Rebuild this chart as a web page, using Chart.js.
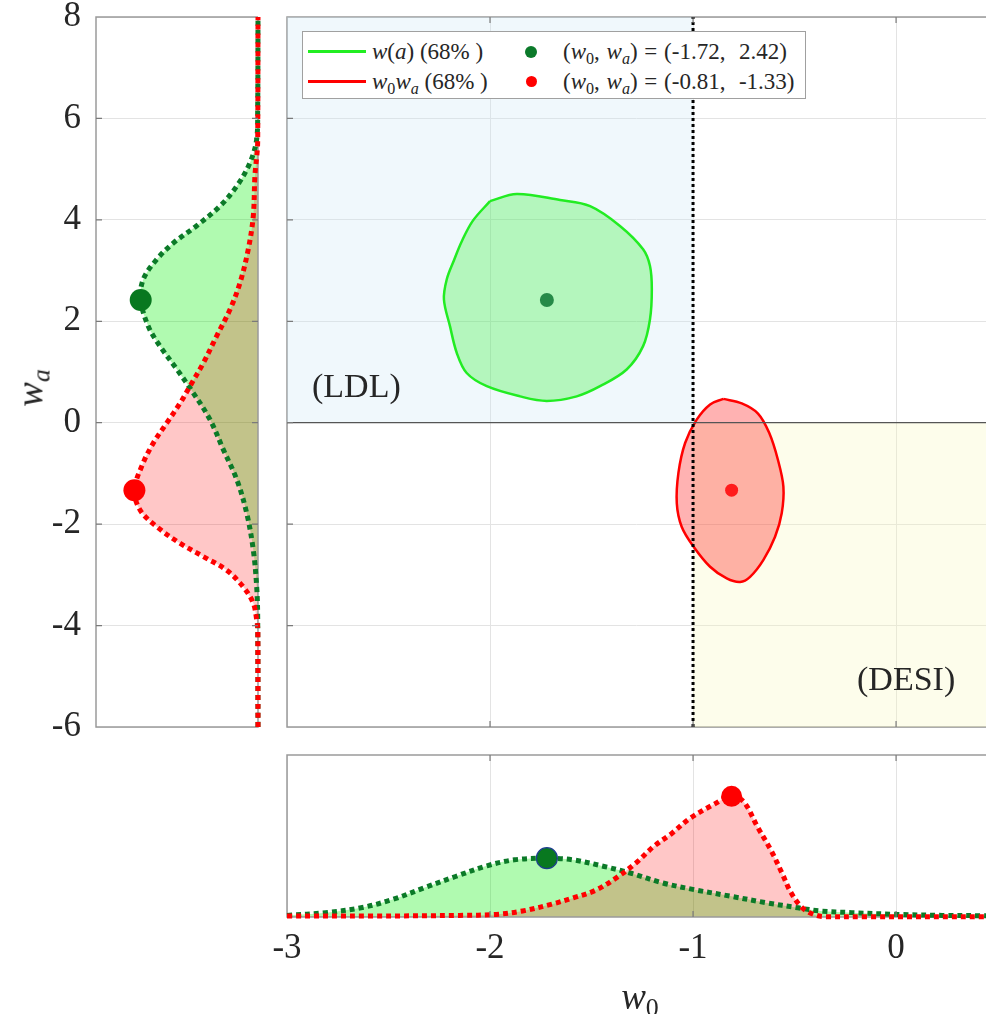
<!DOCTYPE html>
<html><head><meta charset="utf-8">
<script src="https://cdn.jsdelivr.net/npm/chart.js@4.4.0/dist/chart.umd.min.js"></script>
<style>
html,body{margin:0;padding:0;background:#fff;}
#wrap{position:relative;width:986px;height:1014px;overflow:hidden;font-family:'Liberation Serif','Times New Roman',serif;color:#262626;}
canvas{position:absolute;left:0;top:0;}
.t{position:absolute;white-space:nowrap;line-height:1;}
.t sub{font-size:0.7em;vertical-align:-0.28em;line-height:0;}
.sw{position:absolute;}
</style></head><body>
<div id="wrap">
<canvas id="cL" width="986" height="1014"></canvas>
<canvas id="cM" width="986" height="1014"></canvas>
<canvas id="cB" width="986" height="1014"></canvas>
<div class="t" style="left:312px;top:369px;font-size:34px;">(LDL)</div>
<div class="t" style="left:857px;top:662px;font-size:34px;">(DESI)</div>
<div class="sw" style="left:302px;top:31px;width:504px;height:68px;background:#fff;border:1px solid #a0a0a0;box-sizing:border-box;"></div>
<div class="sw" style="left:308px;top:50px;width:58px;height:2.5px;background:#22ee22;"></div>
<div class="sw" style="left:308px;top:80px;width:58px;height:2.5px;background:#ff0000;"></div>
<div class="sw" style="left:525px;top:45.5px;width:12px;height:12px;border-radius:50%;background:#0b7a2a;"></div>
<div class="sw" style="left:525.5px;top:76px;width:11px;height:11px;border-radius:50%;background:#ff0000;"></div>
<div class="t" style="left:372px;top:40px;font-size:23px;"><i>w</i>(<i>a</i>) (68% )</div>
<div class="t" style="left:372px;top:70px;font-size:23px;"><i>w</i><sub>0</sub><i>w</i><sub><i>a</i></sub> (68% )</div>
<div class="t" style="left:563px;top:40px;font-size:23px;word-spacing:1px;">(<i>w</i><sub>0</sub>, <i>w</i><sub><i>a</i></sub>) = (-1.72,&nbsp;&nbsp;2.42)</div>
<div class="t" style="left:563px;top:70px;font-size:23px;word-spacing:1px;">(<i>w</i><sub>0</sub>, <i>w</i><sub><i>a</i></sub>) = (-0.81,&nbsp;&nbsp;-1.33)</div>
<div class="t" style="left:30px;top:388px;font-size:37px;transform:translate(-50%,-50%) rotate(-90deg);"><i>w</i><sub><i>a</i></sub></div>
<div class="t" style="left:640px;top:996px;font-size:37px;transform:translate(-50%,-50%);"><i>w</i><sub>0</sub></div>
</div>
<script>
// ---- tick labels ----
const xTicks = [-3, -2, -1, 0];
const yTicks = [-6, -4, -2, 0, 2, 4, 6, 8];

// ---- shaded regions (w0, wa corners) ----
const regionLDL_w0 = [-3, -3, -1, -1, -3];
const regionLDL_wa = [0, 8, 8, 0, 0];
const regionDESI_w0 = [-1, -1, 0.5, 0.5, -1];
const regionDESI_wa = [-6, 0, 0, -6, -6];
const divider_w0 = [-1, -1];
const divider_wa = [-6, 8];
const zero_w0 = [-3, 0.5];
const zero_wa = [0, 0];

// ---- 68% contours ----
const contourA_w0 = [-2.0,-1.868,-1.655,-1.507,-1.360,-1.246,-1.212,-1.203,-1.212,-1.246,-1.327,-1.458,-1.573,-1.721,-1.852,-2.016,-2.115,-2.164,-2.197,-2.227,-2.213,-2.178,-2.140,-2.085,-2.0];
const contourA_wa = [4.37,4.51,4.39,4.27,3.88,3.42,3.09,2.63,2.04,1.51,1.05,0.72,0.52,0.43,0.52,0.72,0.98,1.38,1.90,2.43,2.83,3.20,3.57,3.98,4.37];
const contourB_w0 = [-0.851,-0.760,-0.680,-0.625,-0.582,-0.555,-0.563,-0.596,-0.654,-0.719,-0.768,-0.834,-0.916,-0.998,-1.056,-1.080,-1.072,-1.039,-0.982,-0.916,-0.851];
const contourB_wa = [0.47,0.38,0.18,-0.20,-0.73,-1.26,-1.78,-2.25,-2.71,-3.04,-3.14,-3.07,-2.84,-2.44,-2.05,-1.59,-0.99,-0.40,0.06,0.36,0.47];

// ---- best fits ----
const best_w0 = [-1.72, -0.81];
const best_wa = [2.42, -1.33];

// ---- marginal of w0 (bottom panel) ----
const margW0_A_x = [-3.0,-2.81,-2.635,-2.48,-2.325,-2.17,-2.015,-1.88,-1.72,-1.593,-1.438,-1.305,-1.149,-0.995,-0.818,-0.64,-0.484,-0.374,-0.218,0.005,0.227,0.443];
const margW0_A_p = [0.01,0.027,0.057,0.108,0.18,0.25,0.316,0.353,0.363,0.353,0.312,0.27,0.21,0.169,0.129,0.088,0.057,0.037,0.027,0.016,0.01,0.008];
const margW0_B_x = [-3.0,-2.59,-2.15,-1.97,-1.84,-1.70,-1.59,-1.48,-1.38,-1.282,-1.194,-1.105,-1.016,-0.905,-0.81,-0.75,-0.683,-0.617,-0.562,-0.517,-0.462,-0.406,-0.35,-0.15,0.443];
const margW0_B_p = [0.006,0.006,0.01,0.016,0.037,0.078,0.118,0.165,0.24,0.333,0.435,0.516,0.608,0.69,0.745,0.71,0.557,0.414,0.271,0.149,0.057,0.016,0.002,0.002,0.002];
const peakW0_p = [0.363, 0.745];

// ---- marginal of wa (left panel) ----
const margWa_A_y = [-6.0,-3.83,-3.24,-2.51,-1.78,-1.13,-0.53,0.06,0.59,1.05,1.51,1.90,2.42,2.83,3.22,3.55,3.88,4.27,4.67,5.13,5.59,6.19,8.0];
const margWa_A_p = [0,0.002,0.008,0.029,0.07,0.13,0.214,0.296,0.40,0.50,0.605,0.677,0.724,0.708,0.625,0.52,0.38,0.235,0.13,0.049,0.008,0.002,0];
const margWa_B_y = [-6.0,-4.1,-3.89,-3.56,-3.24,-2.91,-2.64,-2.38,-2.05,-1.72,-1.33,-0.86,-0.40,-0.01,0.39,0.72,1.18,1.71,2.23,2.76,3.42,4.08,4.87,5.53,8.0];
const margWa_B_p = [0,0.001,0.008,0.029,0.09,0.193,0.337,0.48,0.625,0.728,0.763,0.718,0.646,0.564,0.48,0.42,0.337,0.255,0.173,0.111,0.06,0.029,0.019,0.002,0];
const peakWa_p = [0.724, 0.763];

// ---- helpers ----
const xy = (xs, ys) => xs.map((x, i) => ({x: x, y: ys[i]}));
const FONT = 'Liberation Serif';
const GRID = '#e3e3e3';
const AXC = '#9a9a9a';
const frame = {
  id: 'frame',
  beforeDatasetsDraw(c, a, o) {
    const {left, top, right, bottom} = c.chartArea;
    const ctx = c.ctx;
    ctx.save();
    ctx.strokeStyle = AXC;
    ctx.lineWidth = 1.5;
    ctx.beginPath();
    ctx.moveTo(right, top); ctx.lineTo(left, top); ctx.lineTo(left, bottom); ctx.lineTo(right, bottom);
    if (o.right) { ctx.lineTo(right, top); }
    ctx.stroke();
    ctx.restore();
  },
  afterDatasetsDraw(c, a, o) {
    const {left, top, right, bottom} = c.chartArea;
    const ctx = c.ctx, L = 6;
    ctx.save();
    ctx.strokeStyle = '#7a7a7a';
    ctx.lineWidth = 1.2;
    ctx.beginPath();
    if (o.xt) {
      for (const v of xTicks) {
        const p = c.scales.x.getPixelForValue(v);
        if (p <= left + 1 || p >= right - 1) continue;
        ctx.moveTo(p, top); ctx.lineTo(p, top + L);
        ctx.moveTo(p, bottom); ctx.lineTo(p, bottom - L);
      }
    }
    if (o.yt) {
      for (const v of yTicks) {
        const p = c.scales.y.getPixelForValue(v);
        if (p <= top + 1 || p >= bottom - 1) continue;
        ctx.moveTo(left, p); ctx.lineTo(left + L, p);
        if (o.right) { ctx.moveTo(right, p); ctx.lineTo(right - L, p); }
      }
    }
    ctx.stroke();
    ctx.restore();
  }
};
const setTicks = arr => s => { s.ticks = arr.map(v => ({value: v})); };
const noPad = s => { s.paddingTop = 0; s.paddingBottom = 0; s.paddingLeft = 0; s.paddingRight = 0; };
const base = {
  responsive: false, animation: false, events: [],
  plugins: {legend: {display: false}, tooltip: {enabled: false}}
};
const dotted = (color) => ({borderColor: color, borderWidth: 5, borderDash: [5, 4], borderCapStyle: 'butt', pointRadius: 0, tension: 0.35, clip: 8});

// ---- left panel: marginal of wa ----
new Chart(document.getElementById('cL'), {
  type: 'line',
  data: {datasets: [
    {data: xy(peakWa_p, best_wa), showLine: false, pointRadius: 11, pointBorderWidth: 0,
     pointBackgroundColor: ['#08781f', '#ff0000'], order: 0},
    Object.assign({data: xy(margWa_B_p, margWa_B_y), fill: 'origin', backgroundColor: 'rgba(255,0,0,0.22)', order: 1}, dotted('#ff0000')),
    Object.assign({data: xy(margWa_A_p, margWa_A_y), fill: 'origin', backgroundColor: 'rgba(0,240,0,0.31)', order: 2}, dotted('#0b7a28'))
  ]},
  options: Object.assign({}, base, {
    indexAxis: 'y',
    layout: {autoPadding: false, padding: {left: 0, top: 17, right: 728, bottom: 287}},
    plugins: Object.assign({}, base.plugins, {filler: {drawTime: 'beforeDatasetsDraw'}, frame: {right: true, xt: false, yt: true}}),
    scales: {
      x: {type: 'linear', min: 0, max: 1, reverse: true, display: false},
      y: {type: 'linear', min: -6, max: 8, afterBuildTicks: setTicks(yTicks),
          afterFit: s => { s.width = 96; noPad(s); },
          grid: {color: GRID, drawTicks: false}, border: {display: false},
          ticks: {autoSkip: false, padding: 15, color: '#262626', font: {family: FONT, size: 35, lineHeight: 0.9},
                  callback: v => String(v)}}
    }
  }),
  plugins: [frame]
});

// ---- main panel ----
new Chart(document.getElementById('cM'), {
  type: 'line',
  data: {datasets: [
    {data: xy(regionLDL_w0, regionLDL_wa), fill: 'shape', backgroundColor: 'rgba(205,232,245,0.3)', borderWidth: 0, pointRadius: 0, tension: 0, order: 10},
    {data: xy(regionDESI_w0, regionDESI_wa), fill: 'shape', backgroundColor: 'rgba(250,250,190,0.3)', borderWidth: 0, pointRadius: 0, tension: 0, order: 9},
    {data: xy(contourA_w0, contourA_wa), fill: 'shape', backgroundColor: 'rgba(0,240,0,0.25)', borderColor: '#22ec22', borderWidth: 2.5, pointRadius: 0, tension: 0.35, order: 8},
    {data: xy(contourB_w0, contourB_wa), fill: 'shape', backgroundColor: 'rgba(255,0,0,0.3)', borderColor: '#ff0000', borderWidth: 2.5, pointRadius: 0, tension: 0.35, order: 7},
    {data: xy(zero_w0, zero_wa), borderColor: '#555555', borderWidth: 1.3, pointRadius: 0, tension: 0, order: 6},
    {data: xy(divider_w0, divider_wa), borderColor: '#000000', borderWidth: 3, borderDash: [3, 3], borderCapStyle: 'butt', pointRadius: 0, tension: 0, order: 5},
    {data: xy(best_w0, best_wa), showLine: false, pointRadius: [7, 6.5], pointBorderWidth: 0, pointBackgroundColor: ['#268a48', '#ff1c1c'], order: 1}
  ]},
  options: Object.assign({}, base, {
    layout: {autoPadding: false, padding: {left: 287, top: 17, right: 0, bottom: 287}},
    plugins: Object.assign({}, base.plugins, {frame: {right: false, xt: true, yt: true}}),
    scales: {
      x: {type: 'linear', min: -3, max: 0.443, afterBuildTicks: setTicks(xTicks),
          grid: {color: GRID, drawTicks: false}, border: {display: false}, ticks: {display: false}},
      y: {type: 'linear', min: -6, max: 8, afterBuildTicks: setTicks(yTicks),
          grid: {color: GRID, drawTicks: false}, border: {display: false}, ticks: {display: false}}
    }
  }),
  plugins: [frame]
});

// ---- bottom panel: marginal of w0 ----
new Chart(document.getElementById('cB'), {
  type: 'line',
  data: {datasets: [
    {data: xy(best_w0, peakW0_p), showLine: false, pointRadius: 10.5, pointBorderWidth: [1.2, 0],
     pointBorderColor: ['#1c3f8c', '#ff0000'], pointBackgroundColor: ['#08781f', '#ff0000'], order: 0},
    Object.assign({data: xy(margW0_B_x, margW0_B_p), fill: 'origin', backgroundColor: 'rgba(255,0,0,0.22)', order: 1}, dotted('#ff0000')),
    Object.assign({data: xy(margW0_A_x, margW0_A_p), fill: 'origin', backgroundColor: 'rgba(0,240,0,0.31)', order: 2}, dotted('#0b7a28'))
  ]},
  options: Object.assign({}, base, {
    layout: {autoPadding: false, padding: {left: 287, top: 755, right: 0, bottom: 0}},
    plugins: Object.assign({}, base.plugins, {filler: {drawTime: 'beforeDatasetsDraw'}, frame: {right: false, xt: true, yt: false}}),
    scales: {
      x: {type: 'linear', min: -3, max: 0.443, afterBuildTicks: setTicks(xTicks),
          afterFit: s => { s.height = 97; noPad(s); },
          grid: {color: GRID, drawTicks: false}, border: {display: false},
          ticks: {autoSkip: false, maxRotation: 0, padding: 16, color: '#262626', font: {family: FONT, size: 35, lineHeight: 0.9},
                  callback: v => String(v)}},
      y: {type: 'linear', min: 0, max: 1, display: false}
    }
  }),
  plugins: [frame]
});
</script>
</body></html>
